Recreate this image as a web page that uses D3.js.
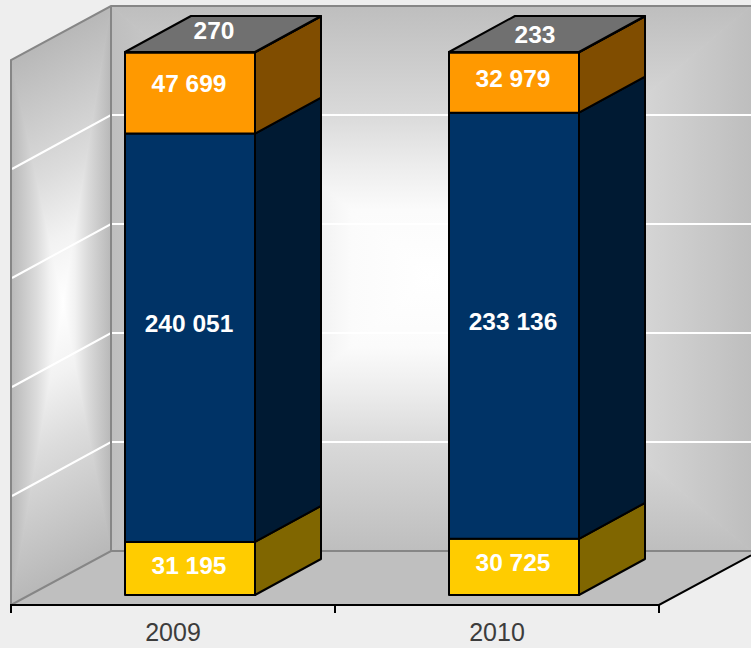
<!DOCTYPE html>
<html>
<head>
<meta charset="utf-8">
<script src="https://cdnjs.cloudflare.com/ajax/libs/d3/7.8.5/d3.min.js"></script>
<style>
html,body{margin:0;padding:0;background:#eeeeee;overflow:hidden}
svg{display:block}
text{font-family:"Liberation Sans",Arial,sans-serif}
</style>
</head>
<body>
<svg id="c" width="751" height="648"></svg>
<script>
const years = ["2009", "2010"];
const seriesKeys = ["yellow", "navy", "orange", "grey"];
const yellowValues = [31195, 30725];
const navyValues = [240051, 233136];
const orangeValues = [47699, 32979];
const greyValues = [270, 233];
const valueLabels = [["31 195","30 725"],["240 051","233 136"],["47 699","32 979"],["270","233"]];
const frontColors = ["#ffcc00","#003366","#ff9900","#808080"];
const sideColors = ["#806600","#001a33","#804d00","#404040"];
const topColor = "#707070";
const gridTicks = [0.2,0.4,0.6,0.8];

// layout constants
const W = 751, H = 648;
const plot = {left:11, right:659, base:605, wallTop:6, backBase:551};
const wallDepth = {x:100, y:54};
const barDepth = {x:66, y:36};
const barWidth = 130;
const labelDx = [[-1,-1],[-1,-1],[-1,-1],[-9,-12]];
const labelDy = [[-3,-4],[-14,-4],[-10,-4],[-4,0]];

const rows = years.map((y,i)=>({year:y,yellow:yellowValues[i],navy:navyValues[i],orange:orangeValues[i],grey:greyValues[i]}));
const stacked = d3.stack().keys(seriesKeys).offset(d3.stackOffsetExpand)(rows);

const x = d3.scaleBand().domain(years).range([plot.left,plot.right]);
const yBar = d3.scaleLinear().domain([0,1]).range([595,52]);
const yWall = d3.scaleLinear().domain([0,1]).range([plot.backBase,plot.wallTop]);

const svg = d3.select("#c");
const defs = svg.append("defs");
const backStops = [[0,"#ffffff"],[0.25,"#fbfbfb"],[0.42,"#ececec"],[0.62,"#d8d8d8"],[1,"#bebebe"]];
const leftStops = [[0,"#ffffff"],[0.25,"#f2f2f2"],[0.5,"#dcdcdc"],[0.72,"#cccccc"],[1,"#b8b8b8"]];
let gid = 0;
function rectGradient(g,x0,y0,w,h,cx,cy,stops){
  const corners = [[x0,y0],[x0+w,y0],[x0+w,y0+h],[x0,y0+h]];
  const tris = [
    {a:corners[0],b:corners[1],from:[cx,y0]},
    {a:corners[1],b:corners[2],from:[x0+w,cy]},
    {a:corners[2],b:corners[3],from:[cx,y0+h]},
    {a:corners[3],b:corners[0],from:[x0,cy]}
  ];
  tris.forEach(t=>{
    const id="g"+(gid++);
    const lg=defs.append("linearGradient").attr("id",id).attr("gradientUnits","userSpaceOnUse")
      .attr("x1",cx).attr("y1",cy).attr("x2",t.from[0]).attr("y2",t.from[1]);
    stops.forEach(s=>lg.append("stop").attr("offset",s[0]).attr("stop-color",s[1]));
    g.append("path").attr("d",`M${cx},${cy}L${t.a}L${t.b}Z`)
      .attr("fill",`url(#${id})`).attr("stroke",`url(#${id})`).attr("stroke-width",1);
  });
}
const clip = defs.append("clipPath").attr("id","leftClip");
clip.append("path").attr("d",`M${plot.left},${plot.base}L${plot.left+wallDepth.x},${plot.backBase}L${plot.left+wallDepth.x},${plot.wallTop}L${plot.left},${plot.wallTop+wallDepth.y}Z`);
const clipB = defs.append("clipPath").attr("id","backClip");
clipB.append("rect").attr("x",plot.left+wallDepth.x).attr("y",plot.wallTop).attr("width",W).attr("height",plot.backBase-plot.wallTop);

// back wall
const bx = plot.left+wallDepth.x;
rectGradient(svg.append("g").attr("clip-path","url(#backClip)"),bx,plot.wallTop,W-bx,plot.backBase-plot.wallTop,431,278,backStops);
// left wall
const leftOuter = svg.append("g").attr("clip-path","url(#leftClip)");
rectGradient(leftOuter.append("g").attr("transform",`matrix(1,${-wallDepth.y/wallDepth.x},0,1,${plot.left},${plot.wallTop+wallDepth.y})`),0,0,wallDepth.x,plot.backBase-plot.wallTop,52,272,leftStops);
// floor
svg.append("path").attr("d",`M${plot.left},${plot.base}L${bx},${plot.backBase}L${W},${plot.backBase}L${W},${plot.base-(W-plot.right)*wallDepth.y/wallDepth.x}L${plot.right},${plot.base}Z`).attr("fill","#bfbfbf");

// gridlines
svg.append("g").selectAll("path").data(gridTicks).join("path")
  .attr("d",t=>`M${plot.left+1},${yWall(t)+wallDepth.y}L${bx},${yWall(t)}L${W},${yWall(t)}`)
  .attr("fill","none").attr("stroke","#ffffff").attr("stroke-width",2);

// wall edges
svg.append("path").attr("d",`M${W},${plot.wallTop}L${bx},${plot.wallTop}L${plot.left},${plot.wallTop+wallDepth.y}L${plot.left},${plot.base}L${bx},${plot.backBase}L${W},${plot.backBase}M${bx},${plot.wallTop}L${bx},${plot.backBase}`)
  .attr("fill","none").attr("stroke","#868686").attr("stroke-width",2);

// axis
const ax = svg.append("g").attr("stroke","#000").attr("stroke-width",2).attr("fill","none");
ax.append("path").attr("d",`M${plot.left},${plot.base}L${plot.right},${plot.base}L${plot.right+(W-plot.right)},${plot.base-(W-plot.right)*wallDepth.y/wallDepth.x}`);
ax.selectAll("line").data([plot.left,...years.map(y=>x(y)+x.bandwidth())]).join("line")
  .attr("x1",d=>d).attr("x2",d=>d).attr("y1",plot.base-1).attr("y2",plot.base+8);

const axisG = svg.append("g").attr("transform",`translate(0,${plot.base})`)
  .call(d3.axisBottom(x).tickSize(0).tickPadding(15));
axisG.select(".domain").remove();
axisG.selectAll("text").attr("font-size",25).attr("fill","#3c3c3c").style("font-family",'"Liberation Sans",Arial,sans-serif').attr("dy","0.85em").attr("dx",0);

// bars
const barLeft = y => x(y)+114;
const bars = svg.append("g");
stacked.forEach((s,si)=>{
  s.forEach((d,i)=>{
    const yr = years[i];
    const x0 = Math.round(barLeft(yr)), x1 = x0+barWidth;
    const y0 = yBar(d[0]), y1 = yBar(d[1]);
    const g = bars.append("g").attr("stroke","#000").attr("stroke-width",2).attr("stroke-linejoin","round");
    g.append("path").attr("d",`M${x1},${y0}L${x1+barDepth.x},${y0-barDepth.y}L${x1+barDepth.x},${y1-barDepth.y}L${x1},${y1}Z`).attr("fill",sideColors[si]);
    g.append("path").attr("d",`M${x0},${y0}L${x1},${y0}L${x1},${y1}L${x0},${y1}Z`).attr("fill",frontColors[si]);
    if(si===stacked.length-1){
      g.append("path").attr("d",`M${x0},${y1}L${x1},${y1}L${x1+barDepth.x},${y1-barDepth.y}L${x0+barDepth.x},${y1-barDepth.y}Z`).attr("fill",topColor);
    }
  });
});
// labels
stacked.forEach((s,si)=>{
  s.forEach((d,i)=>{
    const yr = years[i];
    const x0 = Math.round(barLeft(yr));
    const isTop = si===stacked.length-1;
    const cx = x0+barWidth/2+(isTop?barDepth.x/2:0)+labelDx[si][i];
    const cy = (isTop?yBar(d[1])-barDepth.y/2:(yBar(d[0])+yBar(d[1]))/2)+labelDy[si][i];
    svg.append("text").attr("x",cx).attr("y",cy).attr("dy","0.35em").attr("text-anchor","middle")
      .attr("font-size",24.5).attr("font-weight","bold").attr("fill","#ffffff").text(valueLabels[si][i]);
  });
});
</script>
</body>
</html>
